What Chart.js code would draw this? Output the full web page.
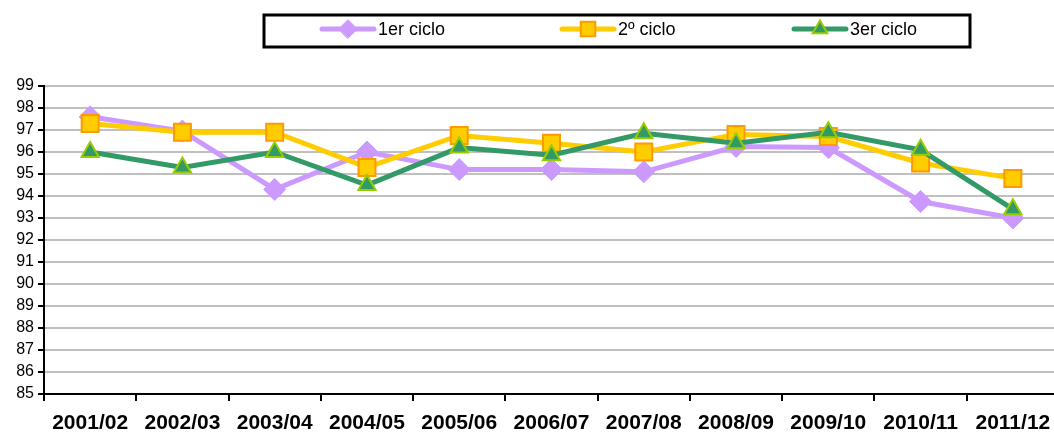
<!DOCTYPE html>
<html>
<head>
<meta charset="utf-8">
<script src="https://cdn.jsdelivr.net/npm/chart.js@4/dist/chart.umd.min.js"></script>
<style>
  html, body { margin: 0; padding: 0; background: #fff; overflow: hidden; }
  #wrap { width: 1054px; height: 436px; overflow: hidden; }
</style>
</head>
<body>
<div id="wrap"><canvas id="chart" width="1073" height="436"></canvas></div>
<script>
const YEARS = ["2001/02","2002/03","2003/04","2004/05","2005/06","2006/07","2007/08","2008/09","2009/10","2010/11","2011/12"];
const CICLO1 = [97.6, 96.95, 94.3, 96.0, 95.2, 95.2, 95.1, 96.25, 96.2, 93.75, 93.0];
const CICLO2 = [97.3, 96.9, 96.9, 95.3, 96.75, 96.4, 96.0, 96.8, 96.7, 95.5, 94.8];
const CICLO3 = [96.0, 95.3, 96.0, 94.5, 96.2, 95.85, 96.85, 96.4, 96.9, 96.1, 93.4];
const Y_MIN = 85, Y_MAX = 99;

function byId(id){ return document.getElementById(id); }

// legend drawn by hand: line with the marker in the middle, inside a black box
const boxLegend = {
  id: 'boxLegend',
  afterDraw(chart){
    const ctx = chart.ctx;
    ctx.save();
    ctx.lineWidth = 3;
    ctx.strokeStyle = '#000';
    ctx.strokeRect(264, 15, 706, 32);
    const xs = [322, 562, 794];
    chart.data.datasets.forEach((ds, i)=>{
      const x = xs[i], y = 29;
      ctx.beginPath();
      ctx.lineCap = 'round';
      ctx.lineWidth = 5;
      ctx.strokeStyle = ds.borderColor;
      ctx.moveTo(x, y); ctx.lineTo(x + 52, y);
      ctx.stroke();
      ctx.fillStyle = ds.pointBackgroundColor;
      ctx.strokeStyle = ds.pointBorderColor;
      ctx.lineWidth = ds.pointBorderWidth;
      Chart.helpers.drawPoint(ctx, {
        pointStyle: ds.pointStyle, rotation: 0, radius: ds.pointRadius * 0.85, borderWidth: ds.pointBorderWidth
      }, x + 26, y);
      ctx.fillStyle = '#000';
      ctx.font = '18px "Liberation Sans", Arial, sans-serif';
      ctx.textBaseline = 'middle';
      ctx.fillText(ds.label, x + 56, y + 1);
    });
    ctx.restore();
  }
};

new Chart(byId('chart').getContext('2d'), {
  type: 'line',
  data: {
    labels: YEARS,
    datasets: [
      { label: '1er ciclo', data: CICLO1, order: 3, borderColor: '#CC99FF', borderWidth: 5,
        pointStyle: 'rectRot', pointRadius: 11, pointBackgroundColor: '#CC99FF',
        pointBorderColor: '#CC99FF', pointBorderWidth: 1 },
      { label: '2º ciclo', data: CICLO2, order: 2, borderColor: '#FFCC00', borderWidth: 5,
        pointStyle: 'rect', pointRadius: 12, pointBackgroundColor: '#FFCC00',
        pointBorderColor: '#FF9900', pointBorderWidth: 2 },
      { label: '3er ciclo', data: CICLO3, order: 1, borderColor: '#339966', borderWidth: 5,
        pointStyle: 'triangle', pointRadius: 10, pointBackgroundColor: '#339966',
        pointBorderColor: '#99CC00', pointBorderWidth: 2 }
    ]
  },
  options: {
    responsive: false,
    animation: false,
    layout: { padding: { top: 86, right: 0, left: 0, bottom: 0 } },
    plugins: { legend: { display: false }, tooltip: { enabled: false } },
    scales: {
      x: {
        offset: true,
        afterFit: s => { s.height = 42; },
        grid: { offset: true, drawOnChartArea: false, color: '#000', lineWidth: 2, tickLength: 7 },
        border: { color: '#000', width: 2 },
        ticks: { color: '#000', padding: 10, maxRotation: 0, autoSkip: false,
          font: { family: '"Liberation Sans", Arial, sans-serif', size: 21, weight: 'bold' } }
      },
      y: {
        min: Y_MIN, max: Y_MAX,
        afterFit: s => { s.width = 44; },
        grid: { color: '#c0c0c0', lineWidth: 2, tickColor: '#000', tickLength: 6 },
        border: { color: '#000', width: 2 },
        ticks: { stepSize: 1, color: '#000', padding: 4, autoSkip: false,
          font: { family: '"Liberation Sans", Arial, sans-serif', size: 16 } }
      }
    }
  },
  plugins: [boxLegend]
});
</script>
</body>
</html>
